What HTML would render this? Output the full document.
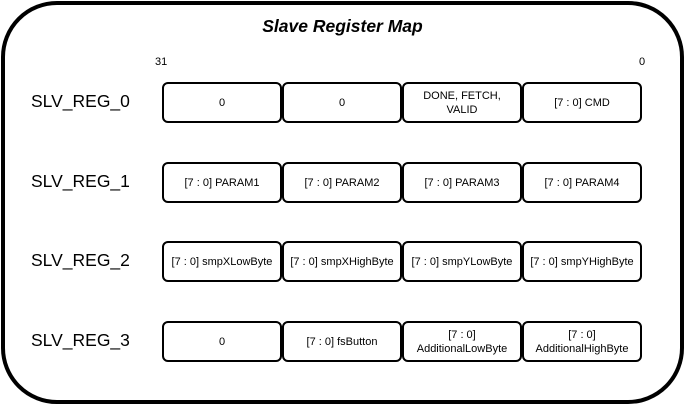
<!DOCTYPE html>
<html><head><style>
body{margin:0;width:685px;height:405px;background:#fff;position:relative;overflow:hidden;font-family:"Liberation Sans",Arial,sans-serif;}
.outer{position:absolute;left:1px;top:1px;width:675px;height:395px;border:4px solid #000;border-radius:56px;}
.t{position:absolute;white-space:nowrap;}
.box{position:absolute;height:37px;width:116px;border:2.5px solid #000;border-radius:6px;display:flex;align-items:center;justify-content:center;text-align:center;font-size:11px;line-height:14px;background:#fff;}
.lbl{position:absolute;left:31px;font-size:17.5px;}
</style></head><body>
<div class="outer"></div>
<div class="t" style="left:0;width:685px;text-align:center;top:16px;font-size:17.5px;font-weight:bold;font-style:italic;">Slave Register Map</div>
<div class="t" style="left:155px;top:56px;font-size:11px;">31</div>
<div class="t" style="left:639px;top:56px;font-size:11px;">0</div>

<div class="lbl" style="top:91px">SLV_REG_0</div>
<div class="box" style="left:162px;top:82px">0</div>
<div class="box" style="left:282px;top:82px">0</div>
<div class="box" style="left:402px;top:82px">DONE, FETCH,<br>VALID</div>
<div class="box" style="left:522px;top:82px">[7 : 0] CMD</div>

<div class="lbl" style="top:171px">SLV_REG_1</div>
<div class="box" style="left:162px;top:162px">[7 : 0] PARAM1</div>
<div class="box" style="left:282px;top:162px">[7 : 0] PARAM2</div>
<div class="box" style="left:402px;top:162px">[7 : 0] PARAM3</div>
<div class="box" style="left:522px;top:162px">[7 : 0] PARAM4</div>

<div class="lbl" style="top:250px">SLV_REG_2</div>
<div class="box" style="left:162px;top:241px">[7 : 0] smpXLowByte</div>
<div class="box" style="left:282px;top:241px">[7 : 0] smpXHighByte</div>
<div class="box" style="left:402px;top:241px">[7 : 0] smpYLowByte</div>
<div class="box" style="left:522px;top:241px">[7 : 0] smpYHighByte</div>

<div class="lbl" style="top:330px">SLV_REG_3</div>
<div class="box" style="left:162px;top:321px">0</div>
<div class="box" style="left:282px;top:321px">[7 : 0] fsButton</div>
<div class="box" style="left:402px;top:321px">[7 : 0]<br>AdditionalLowByte</div>
<div class="box" style="left:522px;top:321px">[7 : 0]<br>AdditionalHighByte</div>
</body></html>
